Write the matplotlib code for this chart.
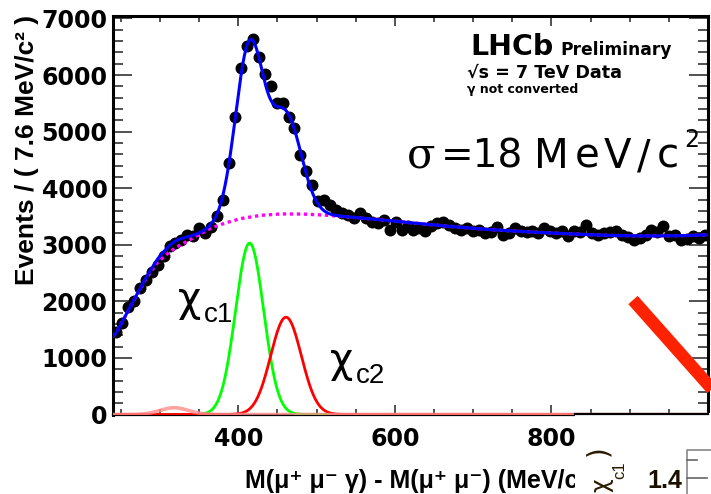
import numpy as np
import matplotlib
matplotlib.use("Agg")
import matplotlib.pyplot as plt
from matplotlib.lines import Line2D
from matplotlib.patches import Rectangle
from matplotlib.ticker import MultipleLocator, FixedLocator

# ---- binned data: events per 7.6 MeV/c^2, 240-1000 MeV/c^2 ----
mass_min, mass_max, bin_width = 240.0, 1000.0, 7.6
events = [
    1460, 1620, 1900, 2000, 2230, 2380, 2520, 2650, 2800, 2980,
    3030, 3080, 3180, 3150, 3290, 3210, 3320, 3500, 3790, 4450,
    5260, 6130, 6510, 6640, 6320, 6010, 5810, 5500, 5510, 5260,
    5070, 4590, 4300, 4050, 3770, 3800, 3710, 3620, 3560, 3530,
    3480, 3570, 3480, 3410, 3390, 3440, 3270, 3400, 3270, 3330,
    3270, 3300, 3250, 3330, 3380, 3410, 3350, 3300, 3270, 3300,
    3250, 3270, 3210, 3230, 3320, 3180, 3210, 3290, 3240, 3230,
    3240, 3200, 3300, 3240, 3210, 3240, 3150, 3240, 3230, 3350,
    3200, 3180, 3210, 3230, 3240, 3170, 3140, 3090, 3120, 3180,
    3260, 3230, 3330, 3150, 3170, 3090, 3100, 3150, 3120, 3180,
]

# combinatorial background shape (dotted curve)
bkg_mass = [240, 244, 252, 259, 267, 275, 282, 290, 297, 305, 313, 320,
            328, 336, 351, 366, 382, 402, 428, 453, 479, 504, 530, 555,
            606, 657, 709, 760, 811, 862, 913, 964, 1000]
bkg_level = [1380, 1440, 1640, 1830, 2030, 2230, 2400, 2560, 2690, 2790,
             2880, 2950, 3010, 3070, 3190, 3300, 3380, 3460, 3520, 3545,
             3545, 3530, 3505, 3475, 3410, 3340, 3280, 3235, 3200, 3170,
             3155, 3160, 3175]

# signal peaks: (mean, sigma, height)
chic0 = (318.0, 18.0, 120.0)
chic1 = (414.5, 18.0, 3030.0)
chic2 = (461.0, 19.5, 1720.0)

W, H = 711, 494
fig = plt.figure(figsize=(W / 100, H / 100), dpi=100)
fig.patch.set_facecolor("white")


def fx(px):
    return px / W


def fy(py):
    return 1 - py / H


ax = fig.add_axes([fx(113), fy(414.5), fx(708) - fx(113), fy(16) - fy(414.5)])

centres = mass_min + bin_width * (np.arange(len(events)) + 0.5)
xs = np.linspace(mass_min, mass_max, 2000)


def gauss(x, p):
    m, s, h = p
    return h * np.exp(-0.5 * ((x - m) / s) ** 2)


bkg = np.interp(xs, bkg_mass, bkg_level)
g0, g1, g2 = gauss(xs, chic0), gauss(xs, chic1), gauss(xs, chic2)
total = bkg + g0 + g1 + g2

ax.plot(centres, events, "o", color="black", markersize=7.6, zorder=3)
ax.plot(xs, g1, color="#00ff00", lw=2.0, zorder=4)
ax.plot(xs, g2, color="#ff0000", lw=2.0, zorder=5)
ax.plot(xs, g0, color="#ff8c8c", lw=2.6, alpha=0.8, zorder=5)
ax.plot(xs, bkg, color="#ff00ff", lw=2.4, ls=(0, (1, 1.1)), zorder=6)
ax.plot(xs, total, color="#0000ff", lw=2.2, zorder=7)

ax.set_xlim(mass_min, mass_max)
ax.set_ylim(0, 7044)
ax.xaxis.set_major_locator(FixedLocator([400, 600, 800]))
ax.xaxis.set_minor_locator(MultipleLocator(50))
ax.yaxis.set_major_locator(MultipleLocator(1000))
ax.yaxis.set_minor_locator(MultipleLocator(200))
ax.tick_params(which="both", direction="in", top=True, right=True,
               color="#333333", width=1.2)
ax.tick_params(axis="y", which="major", length=13.5, pad=4)
ax.tick_params(axis="y", which="minor", length=7)
ax.tick_params(axis="x", which="major", length=7.5, pad=9)
ax.tick_params(axis="x", which="minor", length=4)
for lab in ax.get_xticklabels() + ax.get_yticklabels():
    lab.set_fontfamily("DejaVu Sans")
    lab.set_fontweight("bold")
    lab.set_fontsize(17)
for side in ("left", "top", "right"):
    ax.spines[side].set_linewidth(2.2)
ax.spines["bottom"].set_linewidth(1.6)

# axis titles (the x title runs under the pasted panel on the right)
fig.text(fx(27), fy(150), "Events / ( 7.6 MeV/c² )", rotation=90,
         ha="center", va="center", family="Liberation Sans",
         weight="bold", size=19)
fig.text(fx(245), fy(488), "M(μ⁺ μ⁻ γ) - M(μ⁺ μ⁻) (MeV/c",
         ha="left", va="baseline", family=["Liberation Sans", "DejaVu Sans"],
         weight="bold", size=18)

# experiment labels
fig.text(fx(470), fy(55), "LHCb", family="DejaVu Sans", weight="bold",
         size=20.5, va="baseline")
fig.text(fx(560), fy(55), "Preliminary", family="DejaVu Sans",
         weight="bold", size=12.3, va="baseline")
fig.text(fx(467), fy(78), "√s = 7 TeV Data", family="DejaVu Sans",
         weight="bold", size=12.6, va="baseline")
fig.text(fx(467), fy(93), "γ not converted", family="DejaVu Sans",
         weight="bold", size=9, va="baseline")

# mass resolution label, letters set wide
fig.text(fx(407), fy(168), "σ", family="DejaVu Serif", size=30,
         ha="left", va="baseline")
fig.text(fx(441), fy(168), "=18", family="DejaVu Sans", size=28,
         ha="left", va="baseline")
for ch, xc in (("M", 551), ("e", 587), ("V", 617), ("/", 644), ("c", 668)):
    fig.text(fx(xc), fy(168), ch, family="DejaVu Sans", size=29,
             ha="center", va="baseline")
fig.text(fx(692), fy(147), "2", family="DejaVu Sans", size=17,
         ha="center", va="baseline")

# peak labels
fig.text(fx(178), fy(311), "χ", family="DejaVu Sans", size=29,
         va="baseline")
fig.text(fx(204), fy(322), "c1", family="Liberation Sans", size=20,
         va="baseline")
fig.text(fx(330), fy(372), "χ", family="DejaVu Sans", size=29,
         va="baseline")
fig.text(fx(356), fy(383), "c2", family="Liberation Sans", size=20,
         va="baseline")

# pasted panel in the lower right corner
fig.add_artist(Rectangle((fx(575), 0), 1 - fx(575), fy(413.2),
                         transform=fig.transFigure, facecolor="white",
                         edgecolor="none", zorder=10))
fig.add_artist(Line2D([fx(575), fx(708)], [fy(414.3), fy(414.3)],
                      transform=fig.transFigure, color="black", lw=1.6,
                      zorder=11))
fig.add_artist(Line2D([fx(687), fx(687), fx(711)],
                      [0, fy(450), fy(450)], transform=fig.transFigure,
                      color="#888888", lw=1.2, zorder=11))
for ty, tx in ((460, 697), (478, 707)):
    fig.add_artist(Line2D([fx(687), fx(tx)], [fy(ty), fy(ty)],
                          transform=fig.transFigure, color="#666666",
                          lw=1.2, zorder=11))
fig.text(fx(682), fy(488), "1.4", family="Liberation Sans", weight="bold",
         size=18, ha="right", va="baseline", color="#1a1000", zorder=12)
fig.text(fx(613), fy(492), "χ", family="DejaVu Sans", size=17,
         rotation=90, ha="right", va="bottom", color="#2a1a00", zorder=12)
fig.text(fx(627), fy(470), "c1", family="Liberation Sans", size=12,
         rotation=90, ha="right", va="center", color="#2a1a00", zorder=12)
fig.text(fx(612), fy(456), ")", family="DejaVu Sans", size=20,
         rotation=90, ha="right", va="bottom", color="#2a1a00", zorder=12)

# red arrow drawn across the corner
fig.add_artist(Line2D([fx(633), fx(720)], [fy(300), fy(398)],
                      transform=fig.transFigure, color="#ff2200", lw=9,
                      solid_capstyle="butt", zorder=13))

fig.savefig("out.png", dpi=100)
